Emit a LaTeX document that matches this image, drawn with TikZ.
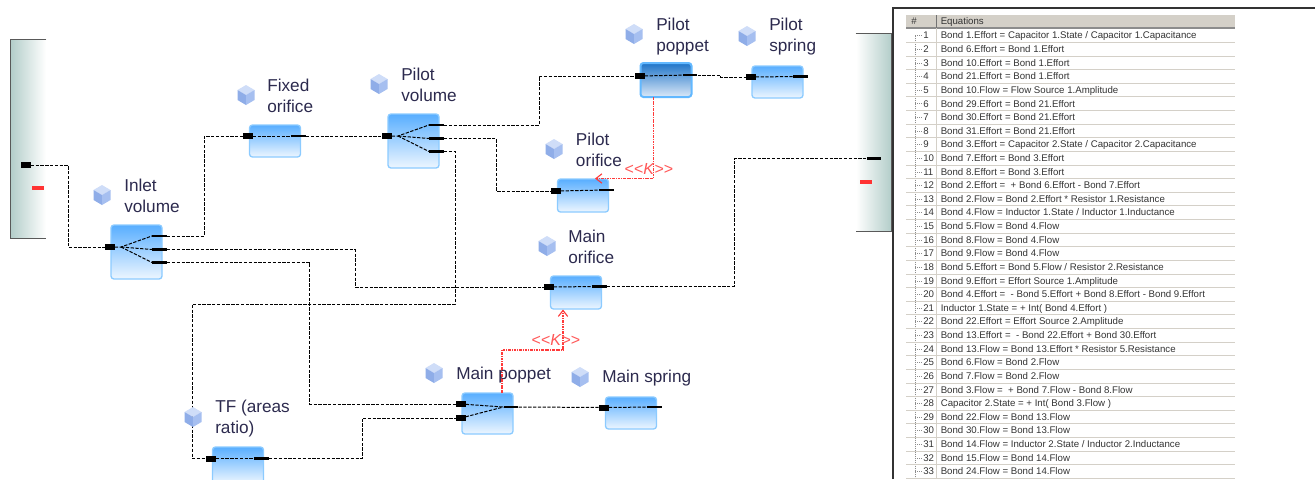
\documentclass[tikz,border=0pt]{standalone}
\usepackage{fontspec}
\setmainfont{Liberation Sans}
\usetikzlibrary{arrows.meta}
\definecolor{blocktop}{HTML}{58AEFF}
\definecolor{blockend}{HTML}{EDF6FF}
\definecolor{blockrim}{HTML}{8CCBFF}
\definecolor{poppettop}{HTML}{1F74C8}
\definecolor{poppetend}{HTML}{DCE9F8}
\definecolor{poppetrim}{HTML}{62B8FF}
\definecolor{tanktone}{HTML}{B4CECA}
\definecolor{labeltone}{HTML}{2C2A4E}
\definecolor{signaltone}{HTML}{FF3A3A}
\definecolor{rowtone}{HTML}{D4D0C8}
\definecolor{rowtext}{HTML}{333333}
\definecolor{cubetop}{HTML}{CFDDF8}
\definecolor{cubeleft}{HTML}{8FADE8}
\definecolor{cuberight}{HTML}{A6BFF0}
\begin{document}
\begin{tikzpicture}[x=0.75pt, y=-0.75pt]
  \tikzstyle{block}=[rectangle, rounded corners=2.2pt, draw=blockrim, line width=1pt,
                     top color=blocktop, bottom color=blockend, minimum width=38.25pt, inner sep=0pt]
  \tikzstyle{port}=[rectangle, fill=black, minimum width=7pt, minimum height=4.5pt, inner sep=0pt]
  \tikzstyle{bar}=[rectangle, fill=black, minimum width=11pt, minimum height=1.6pt, inner sep=0pt]
  \tikzstyle{bond}=[black, line width=0.75pt, dash pattern=on 2.5pt off 1.1pt]
  \tikzstyle{signal}=[signaltone, line width=0.85pt, dash pattern=on 2pt off 0.7pt on 0.7pt off 0.7pt,
                      -{Straight Barb[length=4.5pt, width=7pt]}]
  \tikzstyle{tag}=[anchor=west, align=left, inner sep=0pt, text=labeltone,
                   font=\fontsize{12.9}{15.75}\selectfont]
  \tikzstyle{sigtag}=[inner sep=0pt, text=signaltone!85, font=\fontsize{12}{14}\selectfont]
  \tikzstyle{tank}=[rectangle, minimum width=26.25pt, minimum height=148.5pt, inner sep=0pt]
  \tikzstyle{tankline}=[black!65, line width=1pt]
  \tikzstyle{minus}=[rectangle, fill=red!80, minimum width=9pt, minimum height=3pt, inner sep=0pt]
  \tikzstyle{rowline}=[rowtone, line width=0.75pt]
  \tikzstyle{eqtext}=[anchor=west, inner sep=0pt, text=rowtext, text height=6.2pt, text depth=1.4pt,
                      font=\fontsize{7.25}{10}\selectfont]
  \tikzset{cube/.pic={
    \fill[cubetop] (0,-10) -- (8.5,-5) -- (0,0) -- (-8.5,-5) -- cycle;
    \fill[cubeleft] (-8.5,-5) -- (0,0) -- (0,10) -- (-8.5,5) -- cycle;
    \fill[cuberight] (8.5,-5) -- (0,0) -- (0,10) -- (8.5,5) -- cycle;
  }}
  \useasboundingbox (0,0) rectangle (1315,479);

  % Tanks
  \node[tank, left color=tanktone, right color=white] (tankLeft) at (28.5,139) {};
  \node[tank, left color=white, right color=tanktone] (tankRight) at (873.5,132.5) {};
  \draw[tankline] (tankLeft.north east) -- (tankLeft.north west) -- (tankLeft.south west) -- (tankLeft.south east);
  \draw[tankline] (tankRight.north west) -- (tankRight.north east) -- (tankRight.south east) -- (tankRight.south west);
  \node[minus] (minusLeft) at (38,188) {};
  \node[minus] (minusRight) at (865.5,182) {};

  % Blocks
  \foreach \name/\x/\y/\h in {inlet/136.5/252/54, fixed/275/141/32, pilotVol/413.5/141/54,
      pilotSpring/777.5/82/32, pilotOrifice/583/195.5/33, mainOrifice/576/292.5/33,
      mainPoppet/487.5/413.5/41, mainSpring/631/413/32, areas/238/465/36}
    \node[block, minimum height={\h*0.75pt}] (\name) at (\x,\y) {};
  \node[block, draw=poppetrim, line width=1.5pt, top color=poppettop, bottom color=poppetend,
        minimum height=25.5pt] (pilotPoppet) at (666,80) {};

  % Ports
  \foreach \name/\x/\y in {tankIn/26/165, inletIn/110/247, fixedIn/248/136, pilotVolIn/387/136,
      pilotPoppetIn/640/76, pilotSpringIn/751/77, pilotOrificeIn/556/191, mainOrificeIn/549/287,
      mainPoppetA/461/404, mainPoppetB/461/418, mainSpringIn/604/407.5, areasIn/211/458.5}
    \node[port] (\name) at (\x,\y) {};
  \foreach \name/\x/\y in {inletA/159.5/236, inletB/159.5/249.5, inletC/159.5/262.5, fixedOut/298.5/136,
      pilotVolA/436.5/125, pilotVolB/436.5/138.5, pilotVolC/436.5/151.5, pilotPoppetOut/690/75,
      pilotSpringOut/800.5/76.5, pilotOrificeOut/606.5/190, mainOrificeOut/599.5/286.5,
      mainPoppetOut/511/407, mainSpringOut/654.5/407, areasOut/261.5/458.5, tankOut/874/158.5}
    \node[bar] (\name) at (\x,\y) {};
  \coordinate (inletFan) at (121,247);
  \coordinate (pilotVolFan) at (398,136);

  % Bonds inside the blocks
  \draw[bond] (inletIn.center) -- (inletFan) -- (inletA.west);
  \draw[bond] (inletFan) -- (inletB.west);
  \draw[bond] (inletFan) -- (inletC.west);
  \draw[bond] (pilotVolIn.center) -- (pilotVolFan) -- (pilotVolA.west);
  \draw[bond] (pilotVolFan) -- (pilotVolB.west);
  \draw[bond] (pilotVolFan) -- (pilotVolC.west);
  \draw[bond] (mainPoppetA.center) -- (mainPoppetOut.west);
  \draw[bond] (mainPoppetB.center) -- (mainPoppetOut.west);
  \draw[bond] (fixedIn.center) -- (fixedOut.center);
  \draw[bond] (pilotPoppetIn.center) -- (pilotPoppetOut.center);
  \draw[bond] (pilotSpringIn.center) -- (pilotSpringOut.center);
  \draw[bond] (pilotOrificeIn.center) -- (pilotOrificeOut.center);
  \draw[bond] (mainOrificeIn.center) -- (mainOrificeOut.center);
  \draw[bond] (mainSpringIn.center) -- (mainSpringOut.center);
  \draw[bond] (areasIn.center) -- (areasOut.center);

  % Bonds between the blocks
  \draw[bond] (tankIn.center) -- ++(42,0) |- (inletIn.center);
  \draw[bond] (inletA.east) -- ++(37,0) |- (fixedIn.center);
  \draw[bond] (inletB.east) -- ++(188,0) |- (mainOrificeIn.center);
  \draw[bond] (inletC.east) -- ++(142.5,0) |- (mainPoppetA.center);
  \draw[bond] (fixedOut.east) -- (pilotVolIn.center);
  \draw[bond] (pilotVolA.east) -- ++(95,0) |- (pilotPoppetIn.center);
  \draw[bond] (pilotVolB.east) -- ++(52,0) |- (pilotOrificeIn.center);
  \draw[bond] (pilotVolC.east) -- ++(11,0) -- ++(0,152.5) -- ++(-263,0) |- (areasIn.center);
  \draw[bond] (areasOut.east) -- ++(93,0) |- (mainPoppetB.center);
  \draw[bond] (mainPoppetOut.east) -- (mainSpringIn.center);
  \draw[bond] (mainOrificeOut.east) -- ++(127,0) |- (tankOut.center);
  \draw[bond] (pilotPoppetOut.east) -- ++(23,0) |- (pilotSpringIn.center);

  % Signals
  \coordinate (poppetTap) at (653.5,97);
  \coordinate (orificeTip) at (595,178.5);
  \coordinate (mainTap) at (502,393);
  \coordinate (mainTip) at (563,309.5);
  \draw[signal] (poppetTap) |- (orificeTip);
  \draw[signal] (mainTap) -- ++(0,-43) -| (mainTip);
  \node[sigtag] (sigPilot) at (649,169) {<{}<\textit{K}>{}>};
  \node[sigtag] (sigMain) at (556,340) {<{}<\textit{K}>{}>};

  % Cubes and names
  \foreach \x/\y in {102/195, 246/95, 379/84, 634/34, 747/36, 554/149, 547/246, 434/373, 580/377, 193/417}
    \pic at (\x,\y) {cube};
  \node[tag] (inletTag) at (124,195.5) {Inlet\\volume};
  \node[tag] (fixedTag) at (267,95.5) {Fixed\\orifice};
  \node[tag] (pilotVolTag) at (401,84.5) {Pilot\\volume};
  \node[tag] (pilotPoppetTag) at (656,36.5) {Pilot\\poppet};
  \node[tag] (pilotSpringTag) at (769,37) {Pilot\\spring};
  \node[tag] (pilotOrificeTag) at (575.7,149.5) {Pilot\\orifice};
  \node[tag] (mainOrificeTag) at (568,246.5) {Main\\orifice};
  \node[tag] (mainPoppetTag) at (456,375) {Main poppet};
  \node[tag] (mainSpringTag) at (602,378.5) {Main spring};
  \node[tag] (areasTag) at (215,418.5) {TF (areas\\ratio)};

  % Equation table
  \draw[black!80, line width=1.5pt] (893,479) -- (893,8) -- (1315,8);
  \fill[rowtone] (906,15) rectangle (1235,28);
  \draw[black!45, line width=0.8pt] (906,28) -- (1235,28);
  \draw[black!55, line width=0.8pt] (936.5,15) -- (936.5,28);
  \draw[rowline] (936.5,28) -- (936.5,479);
  \draw[black!45, line width=0.5pt, densely dotted] (915,35.7) -- (915,479);
  \node[eqtext] (headNum) at (911,21.5) {\#};
  \node[eqtext] (headEq) at (940.5,21.5) {Equations};
  \foreach \eq [count=\n] in {
      {Bond 1.Effort = Capacitor 1.State / Capacitor 1.Capacitance},
      {Bond 6.Effort = Bond 1.Effort},
      {Bond 10.Effort = Bond 1.Effort},
      {Bond 21.Effort = Bond 1.Effort},
      {Bond 10.Flow = Flow Source 1.Amplitude},
      {Bond 29.Effort = Bond 21.Effort},
      {Bond 30.Effort = Bond 21.Effort},
      {Bond 31.Effort = Bond 21.Effort},
      {Bond 3.Effort = Capacitor 2.State / Capacitor 2.Capacitance},
      {Bond 7.Effort = Bond 3.Effort},
      {Bond 8.Effort = Bond 3.Effort},
      {Bond 2.Effort = \ + Bond 6.Effort - Bond 7.Effort},
      {Bond 2.Flow = Bond 2.Effort * Resistor 1.Resistance},
      {Bond 4.Flow = Inductor 1.State / Inductor 1.Inductance},
      {Bond 5.Flow = Bond 4.Flow},
      {Bond 8.Flow = Bond 4.Flow},
      {Bond 9.Flow = Bond 4.Flow},
      {Bond 5.Effort = Bond 5.Flow / Resistor 2.Resistance},
      {Bond 9.Effort = Effort Source 1.Amplitude},
      {Bond 4.Effort = \ - Bond 5.Effort + Bond 8.Effort - Bond 9.Effort},
      {Inductor 1.State = + Int( Bond 4.Effort )},
      {Bond 22.Effort = Effort Source 2.Amplitude},
      {Bond 13.Effort = \ - Bond 22.Effort + Bond 30.Effort},
      {Bond 13.Flow = Bond 13.Effort * Resistor 5.Resistance},
      {Bond 6.Flow = Bond 2.Flow},
      {Bond 7.Flow = Bond 2.Flow},
      {Bond 3.Flow = \ + Bond 7.Flow - Bond 8.Flow},
      {Capacitor 2.State = + Int( Bond 3.Flow )},
      {Bond 22.Flow = Bond 13.Flow},
      {Bond 30.Flow = Bond 13.Flow},
      {Bond 14.Flow = Inductor 2.State / Inductor 2.Inductance},
      {Bond 15.Flow = Bond 14.Flow},
      {Bond 24.Flow = Bond 14.Flow}} {
    \pgfmathsetmacro{\rowy}{35.7+13.62*(\n-1)}
    \draw[rowline] (906,\rowy+6.8) -- (1235,\rowy+6.8);
    \draw[black!45, line width=0.5pt, densely dotted] (915,\rowy) -- (922,\rowy);
    \node[eqtext] (num\n) at (923,\rowy) {\n};
    \node[eqtext] (eq\n) at (940.5,\rowy) {\eq};
  }
\end{tikzpicture}
\end{document}
